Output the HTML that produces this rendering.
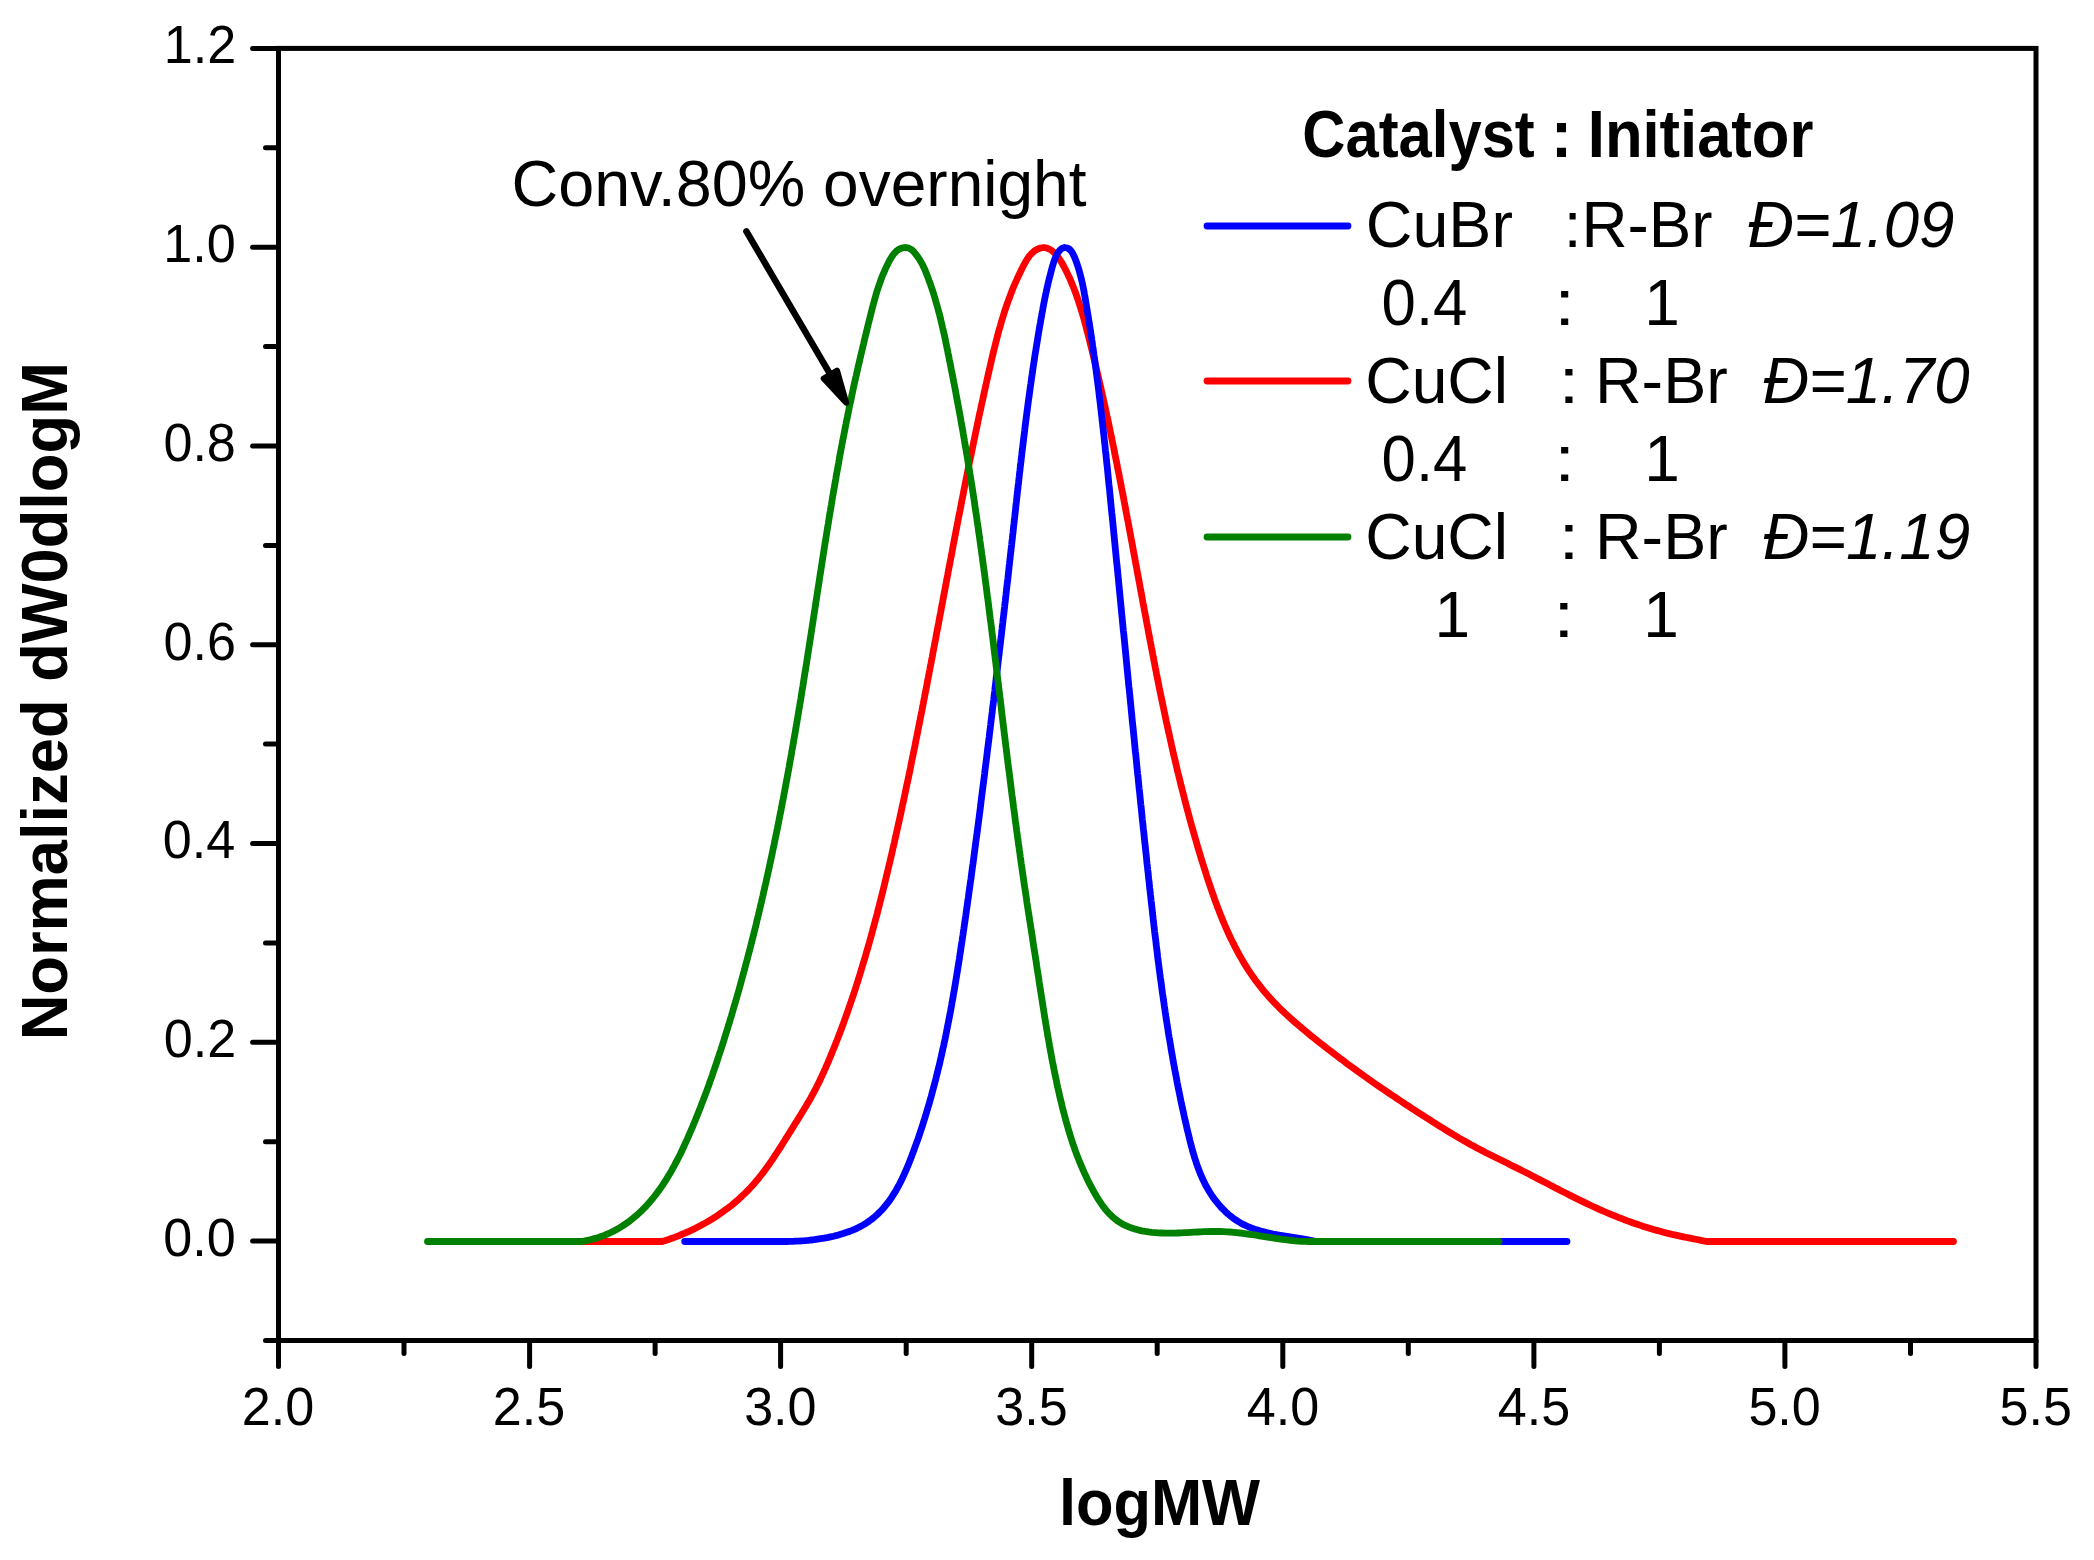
<!DOCTYPE html>
<html lang="en"><head><meta charset="utf-8"><title>GPC traces</title>
<style>html,body{margin:0;padding:0;background:#fff}body{width:2094px;height:1560px;overflow:hidden}svg{display:block}text{font-family:"Liberation Sans",Arial,Helvetica,sans-serif;fill:#000}</style></head><body>
<svg width="2094" height="1560" viewBox="0 0 2094 1560">
<rect width="2094" height="1560" fill="#fff"/>
<path d="M575.0,1241.5 L662.3,1241.5 L665.5,1240.5 L668.8,1239.4 L672.0,1238.2 L675.2,1237.1 L678.4,1235.8 L681.6,1234.5 L684.8,1233.2 L687.9,1231.8 L691.1,1230.3 L694.2,1228.9 L697.3,1227.3 L700.3,1225.7 L703.4,1224.1 L706.4,1222.4 L709.4,1220.6 L712.3,1218.8 L715.3,1217.0 L718.2,1215.1 L721.0,1213.1 L723.8,1211.1 L726.6,1209.1 L729.4,1207.0 L732.1,1204.9 L734.7,1202.7 L737.4,1200.4 L739.9,1198.1 L742.4,1195.8 L744.9,1193.4 L747.3,1191.0 L749.7,1188.5 L752.0,1186.0 L754.3,1183.4 L756.5,1180.8 L758.7,1178.2 L760.8,1175.5 L762.9,1172.8 L765.0,1170.0 L767.0,1167.3 L769.0,1164.5 L771.0,1161.6 L772.9,1158.8 L774.8,1155.9 L776.7,1153.0 L778.6,1150.1 L780.5,1147.2 L782.3,1144.3 L784.2,1141.3 L786.0,1138.4 L787.8,1135.5 L789.7,1132.5 L791.5,1129.6 L793.3,1126.7 L795.1,1123.7 L797.0,1120.8 L798.8,1117.9 L800.6,1115.0 L802.3,1112.1 L804.1,1109.2 L805.8,1106.4 L807.5,1103.5 L809.2,1100.7 L810.8,1097.9 L812.3,1095.0 L813.9,1092.2 L815.4,1089.4 L816.8,1086.5 L818.3,1083.7 L819.7,1080.7 L821.1,1077.8 L822.5,1074.7 L823.9,1071.7 L825.3,1068.6 L826.6,1065.5 L828.0,1062.4 L829.3,1059.2 L830.6,1056.1 L831.9,1052.9 L833.2,1049.8 L834.5,1046.6 L835.7,1043.5 L837.0,1040.3 L838.2,1037.1 L839.5,1033.9 L840.7,1030.7 L841.9,1027.5 L843.1,1024.3 L844.2,1021.1 L845.4,1017.9 L846.5,1014.7 L847.7,1011.5 L848.8,1008.2 L849.9,1005.0 L851.0,1001.8 L852.1,998.5 L853.2,995.3 L854.3,992.0 L855.4,988.8 L856.4,985.5 L857.5,982.2 L858.5,978.9 L859.5,975.7 L860.5,972.4 L861.5,969.1 L862.5,965.8 L863.5,962.5 L864.5,959.2 L865.5,955.9 L866.4,952.6 L867.4,949.3 L868.3,946.0 L869.3,942.7 L870.2,939.4 L871.1,936.1 L872.0,932.8 L872.9,929.4 L873.8,926.1 L874.7,922.8 L875.6,919.4 L876.5,916.1 L877.4,912.8 L878.2,909.4 L879.1,906.1 L879.9,902.7 L880.8,899.4 L881.6,896.0 L882.5,892.7 L883.3,889.3 L884.1,886.0 L884.9,882.6 L885.7,879.3 L886.5,875.9 L887.3,872.6 L888.1,869.2 L888.9,865.8 L889.7,862.5 L890.5,859.1 L891.3,855.8 L892.1,852.4 L892.8,849.0 L893.6,845.7 L894.4,842.3 L895.1,838.9 L895.9,835.6 L896.6,832.2 L897.4,828.8 L898.1,825.5 L898.9,822.1 L899.6,818.7 L900.4,815.4 L901.1,812.0 L901.8,808.6 L902.5,805.2 L903.3,801.9 L904.0,798.5 L904.7,795.1 L905.4,791.8 L906.1,788.4 L906.8,785.0 L907.6,781.6 L908.3,778.3 L909.0,774.9 L909.7,771.5 L910.4,768.1 L911.0,764.8 L911.7,761.4 L912.4,758.0 L913.1,754.6 L913.8,751.3 L914.5,747.9 L915.2,744.5 L915.8,741.1 L916.5,737.7 L917.2,734.4 L917.9,731.0 L918.5,727.6 L919.2,724.2 L919.9,720.8 L920.5,717.5 L921.2,714.1 L921.9,710.7 L922.5,707.3 L923.2,703.9 L923.8,700.6 L924.5,697.2 L925.1,693.8 L925.8,690.4 L926.5,687.0 L927.1,683.6 L927.7,680.3 L928.4,676.9 L929.0,673.5 L929.7,670.1 L930.3,666.7 L931.0,663.4 L931.6,660.0 L932.3,656.6 L932.9,653.2 L933.5,649.8 L934.2,646.4 L934.8,643.0 L935.5,639.7 L936.1,636.3 L936.7,632.9 L937.4,629.5 L938.0,626.1 L938.7,622.7 L939.3,619.4 L939.9,616.0 L940.6,612.6 L941.2,609.2 L941.8,605.8 L942.5,602.4 L943.1,599.1 L943.7,595.7 L944.4,592.3 L945.0,588.9 L945.7,585.5 L946.3,582.1 L946.9,578.7 L947.6,575.4 L948.2,572.0 L948.8,568.6 L949.5,565.2 L950.1,561.8 L950.8,558.4 L951.4,555.1 L952.1,551.7 L952.7,548.3 L953.3,544.9 L954.0,541.5 L954.6,538.1 L955.3,534.8 L955.9,531.4 L956.6,528.0 L957.2,524.6 L957.9,521.2 L958.5,517.9 L959.2,514.5 L959.9,511.1 L960.5,507.7 L961.2,504.3 L961.8,500.9 L962.5,497.6 L963.2,494.2 L963.8,490.8 L964.5,487.4 L965.2,484.0 L965.8,480.7 L966.5,477.3 L967.2,473.9 L967.9,470.5 L968.5,467.2 L969.2,463.8 L969.9,460.4 L970.6,457.0 L971.3,453.7 L972.0,450.3 L972.7,446.9 L973.4,443.5 L974.1,440.1 L974.8,436.8 L975.5,433.4 L976.2,430.0 L976.9,426.7 L977.6,423.3 L978.3,419.9 L979.0,416.5 L979.7,413.2 L980.5,409.8 L981.2,406.4 L981.9,403.1 L982.7,399.7 L983.4,396.3 L984.1,392.9 L984.9,389.6 L985.6,386.2 L986.4,382.8 L987.1,379.5 L987.9,376.1 L988.6,372.7 L989.4,369.4 L990.2,366.0 L990.9,362.7 L991.7,359.3 L992.5,355.9 L993.3,352.6 L994.1,349.2 L995.0,345.9 L995.8,342.5 L996.7,339.2 L997.5,335.9 L998.4,332.5 L999.3,329.2 L1000.3,325.9 L1001.2,322.6 L1002.2,319.3 L1003.2,316.0 L1004.2,312.7 L1005.3,309.4 L1006.4,306.2 L1007.5,302.9 L1008.7,299.7 L1009.9,296.5 L1011.1,293.2 L1012.3,290.0 L1013.6,286.8 L1015.0,283.7 L1016.4,280.5 L1017.8,277.3 L1019.3,274.2 L1020.8,271.1 L1022.3,268.0 L1023.9,264.9 L1025.6,261.8 L1027.4,258.8 L1029.3,256.0 L1031.6,253.5 L1034.1,251.2 L1037.0,249.3 L1040.3,248.0 L1043.7,247.5 L1047.0,248.1 L1050.1,249.5 L1052.9,251.5 L1055.4,253.8 L1057.6,256.4 L1059.6,259.2 L1061.5,262.2 L1063.2,265.2 L1064.8,268.3 L1066.4,271.4 L1067.9,274.6 L1069.4,277.7 L1070.8,280.9 L1072.1,284.1 L1073.4,287.3 L1074.7,290.5 L1075.9,293.7 L1077.0,297.0 L1078.2,300.2 L1079.2,303.5 L1080.3,306.8 L1081.3,310.0 L1082.3,313.3 L1083.2,316.6 L1084.2,319.9 L1085.1,323.3 L1086.0,326.6 L1086.8,329.9 L1087.7,333.2 L1088.6,336.6 L1089.4,339.9 L1090.2,343.2 L1091.1,346.6 L1091.9,349.9 L1092.7,353.3 L1093.5,356.6 L1094.3,359.9 L1095.1,363.3 L1095.9,366.6 L1096.7,370.0 L1097.5,373.3 L1098.3,376.7 L1099.0,380.1 L1099.8,383.4 L1100.6,386.8 L1101.3,390.1 L1102.1,393.5 L1102.8,396.9 L1103.6,400.2 L1104.3,403.6 L1105.1,407.0 L1105.8,410.3 L1106.5,413.7 L1107.2,417.1 L1108.0,420.4 L1108.7,423.8 L1109.4,427.2 L1110.1,430.6 L1110.8,433.9 L1111.5,437.3 L1112.2,440.7 L1112.9,444.1 L1113.6,447.4 L1114.3,450.8 L1114.9,454.2 L1115.6,457.6 L1116.3,461.0 L1117.0,464.4 L1117.6,467.7 L1118.3,471.1 L1119.0,474.5 L1119.6,477.9 L1120.3,481.3 L1121.0,484.7 L1121.6,488.1 L1122.3,491.5 L1122.9,494.8 L1123.6,498.2 L1124.2,501.6 L1124.9,505.0 L1125.5,508.4 L1126.1,511.8 L1126.8,515.2 L1127.4,518.6 L1128.1,522.0 L1128.7,525.4 L1129.3,528.8 L1130.0,532.2 L1130.6,535.6 L1131.2,538.9 L1131.9,542.3 L1132.5,545.7 L1133.1,549.1 L1133.7,552.5 L1134.4,555.9 L1135.0,559.3 L1135.6,562.7 L1136.3,566.1 L1136.9,569.5 L1137.5,572.9 L1138.1,576.3 L1138.8,579.7 L1139.4,583.0 L1140.0,586.4 L1140.6,589.8 L1141.3,593.2 L1141.9,596.6 L1142.5,600.0 L1143.1,603.4 L1143.8,606.8 L1144.4,610.2 L1145.0,613.5 L1145.7,616.9 L1146.3,620.3 L1146.9,623.7 L1147.6,627.1 L1148.2,630.5 L1148.8,633.8 L1149.5,637.2 L1150.1,640.6 L1150.8,644.0 L1151.4,647.4 L1152.1,650.7 L1152.7,654.1 L1153.4,657.5 L1154.0,660.9 L1154.7,664.3 L1155.3,667.6 L1156.0,671.0 L1156.6,674.4 L1157.3,677.7 L1158.0,681.1 L1158.7,684.5 L1159.3,687.9 L1160.0,691.2 L1160.7,694.6 L1161.4,698.0 L1162.1,701.3 L1162.8,704.7 L1163.5,708.1 L1164.2,711.4 L1164.9,714.8 L1165.6,718.1 L1166.3,721.5 L1167.1,724.9 L1167.8,728.2 L1168.5,731.6 L1169.3,734.9 L1170.0,738.3 L1170.8,741.6 L1171.5,745.0 L1172.3,748.4 L1173.0,751.7 L1173.8,755.1 L1174.6,758.4 L1175.4,761.8 L1176.2,765.1 L1176.9,768.4 L1177.7,771.8 L1178.6,775.1 L1179.4,778.5 L1180.2,781.8 L1181.0,785.2 L1181.9,788.5 L1182.7,791.8 L1183.6,795.2 L1184.4,798.5 L1185.3,801.9 L1186.1,805.2 L1187.0,808.5 L1187.9,811.9 L1188.8,815.2 L1189.7,818.5 L1190.6,821.9 L1191.5,825.2 L1192.5,828.5 L1193.4,831.8 L1194.4,835.2 L1195.3,838.5 L1196.3,841.8 L1197.2,845.1 L1198.2,848.5 L1199.2,851.8 L1200.2,855.1 L1201.2,858.4 L1202.2,861.7 L1203.3,865.0 L1204.3,868.4 L1205.4,871.7 L1206.4,875.0 L1207.5,878.3 L1208.6,881.6 L1209.7,884.9 L1210.8,888.2 L1211.9,891.5 L1213.1,894.7 L1214.2,898.0 L1215.4,901.3 L1216.6,904.5 L1217.8,907.8 L1219.1,911.0 L1220.3,914.2 L1221.6,917.4 L1222.9,920.6 L1224.3,923.8 L1225.6,927.0 L1227.0,930.1 L1228.4,933.3 L1229.9,936.4 L1231.3,939.5 L1232.9,942.5 L1234.4,945.6 L1236.0,948.6 L1237.6,951.7 L1239.2,954.7 L1240.9,957.6 L1242.6,960.6 L1244.3,963.5 L1246.1,966.4 L1247.9,969.3 L1249.8,972.1 L1251.7,974.9 L1253.7,977.7 L1255.6,980.5 L1257.7,983.2 L1259.8,985.9 L1261.9,988.6 L1264.0,991.2 L1266.3,993.8 L1268.5,996.4 L1270.8,998.9 L1273.2,1001.5 L1275.5,1003.9 L1278.0,1006.4 L1280.4,1008.8 L1282.9,1011.2 L1285.4,1013.6 L1288.0,1016.0 L1290.5,1018.3 L1293.1,1020.6 L1295.7,1022.9 L1298.4,1025.2 L1301.0,1027.4 L1303.7,1029.6 L1306.4,1031.9 L1309.0,1034.1 L1311.7,1036.3 L1314.4,1038.4 L1317.1,1040.6 L1319.9,1042.8 L1322.6,1044.9 L1325.3,1047.0 L1328.0,1049.1 L1330.8,1051.2 L1333.5,1053.3 L1336.2,1055.4 L1339.0,1057.5 L1341.7,1059.6 L1344.5,1061.6 L1347.2,1063.7 L1350.0,1065.7 L1352.8,1067.7 L1355.6,1069.8 L1358.3,1071.8 L1361.1,1073.8 L1363.9,1075.8 L1366.7,1077.7 L1369.5,1079.7 L1372.3,1081.7 L1375.1,1083.7 L1377.9,1085.6 L1380.8,1087.6 L1383.6,1089.5 L1386.4,1091.4 L1389.3,1093.4 L1392.1,1095.3 L1395.0,1097.2 L1397.8,1099.1 L1400.7,1101.0 L1403.5,1102.9 L1406.4,1104.8 L1409.3,1106.7 L1412.1,1108.6 L1415.0,1110.4 L1417.9,1112.3 L1420.8,1114.2 L1423.7,1116.0 L1426.6,1117.9 L1429.5,1119.7 L1432.4,1121.6 L1435.3,1123.4 L1438.3,1125.3 L1441.2,1127.1 L1444.1,1128.9 L1447.1,1130.8 L1450.0,1132.5 L1453.0,1134.3 L1456.0,1136.1 L1458.9,1137.9 L1461.9,1139.6 L1464.9,1141.3 L1467.9,1143.0 L1470.9,1144.7 L1473.9,1146.3 L1476.9,1148.0 L1480.0,1149.6 L1483.0,1151.1 L1486.0,1152.7 L1489.1,1154.2 L1492.2,1155.8 L1495.2,1157.3 L1498.3,1158.8 L1501.4,1160.3 L1504.4,1161.8 L1507.5,1163.3 L1510.6,1164.9 L1513.6,1166.4 L1516.7,1167.9 L1519.8,1169.4 L1522.8,1171.0 L1525.9,1172.5 L1529.0,1174.1 L1532.0,1175.7 L1535.1,1177.3 L1538.1,1178.9 L1541.2,1180.4 L1544.2,1182.0 L1547.3,1183.6 L1550.3,1185.2 L1553.4,1186.8 L1556.4,1188.4 L1559.5,1189.9 L1562.5,1191.5 L1565.6,1193.0 L1568.6,1194.6 L1571.6,1196.1 L1574.7,1197.6 L1577.7,1199.1 L1580.8,1200.6 L1583.8,1202.1 L1586.9,1203.6 L1589.9,1205.0 L1593.0,1206.5 L1596.1,1207.9 L1599.2,1209.3 L1602.2,1210.6 L1605.4,1212.0 L1608.5,1213.3 L1611.6,1214.6 L1614.7,1215.9 L1617.9,1217.2 L1621.1,1218.4 L1624.3,1219.7 L1627.5,1220.9 L1630.7,1222.0 L1633.9,1223.2 L1637.2,1224.3 L1640.4,1225.4 L1643.7,1226.5 L1647.0,1227.5 L1650.2,1228.5 L1653.5,1229.5 L1656.8,1230.4 L1660.2,1231.3 L1663.5,1232.2 L1666.8,1233.1 L1670.1,1233.9 L1673.4,1234.7 L1676.8,1235.4 L1680.1,1236.1 L1683.4,1236.8 L1686.8,1237.5 L1690.1,1238.2 L1693.4,1238.9 L1696.7,1239.5 L1700.0,1240.2 L1703.2,1240.8 L1706.5,1241.5 L1953.5,1241.5" fill="none" stroke="#ff0000" stroke-width="6.8" stroke-linecap="round" stroke-linejoin="round"/>
<path d="M684.7,1241.5 L784.0,1241.5 L786.8,1241.5 L789.6,1241.4 L792.6,1241.4 L795.5,1241.2 L798.6,1241.1 L801.7,1240.9 L804.8,1240.7 L807.9,1240.4 L811.1,1240.0 L814.3,1239.7 L817.5,1239.2 L820.7,1238.7 L824.0,1238.2 L827.2,1237.6 L830.4,1236.9 L833.6,1236.2 L836.8,1235.4 L839.9,1234.5 L843.1,1233.6 L846.1,1232.6 L849.2,1231.5 L852.1,1230.4 L855.1,1229.1 L857.9,1227.8 L860.7,1226.4 L863.4,1224.9 L866.0,1223.3 L868.5,1221.6 L871.0,1219.8 L873.3,1218.0 L875.6,1216.0 L877.8,1214.0 L879.9,1211.9 L882.0,1209.8 L884.0,1207.5 L885.9,1205.2 L887.7,1202.9 L889.5,1200.4 L891.3,1198.0 L892.9,1195.4 L894.5,1192.9 L896.1,1190.2 L897.6,1187.5 L899.1,1184.8 L900.5,1182.1 L901.9,1179.3 L903.2,1176.5 L904.5,1173.6 L905.8,1170.7 L907.0,1167.8 L908.3,1164.9 L909.4,1162.0 L910.6,1159.1 L911.7,1156.1 L912.8,1153.1 L913.9,1150.2 L915.0,1147.2 L916.1,1144.2 L917.1,1141.3 L918.2,1138.3 L919.2,1135.3 L920.2,1132.3 L921.2,1129.3 L922.2,1126.4 L923.1,1123.4 L924.1,1120.4 L925.0,1117.4 L925.9,1114.4 L926.8,1111.4 L927.7,1108.4 L928.6,1105.4 L929.5,1102.4 L930.3,1099.4 L931.2,1096.4 L932.0,1093.4 L932.8,1090.4 L933.6,1087.3 L934.4,1084.3 L935.2,1081.3 L936.0,1078.3 L936.7,1075.3 L937.5,1072.2 L938.2,1069.2 L939.0,1066.2 L939.7,1063.2 L940.4,1060.1 L941.1,1057.1 L941.8,1054.1 L942.4,1051.0 L943.1,1048.0 L943.8,1045.0 L944.4,1041.9 L945.1,1038.9 L945.7,1035.8 L946.3,1032.8 L946.9,1029.7 L947.5,1026.7 L948.1,1023.6 L948.7,1020.6 L949.3,1017.5 L949.9,1014.5 L950.5,1011.4 L951.0,1008.4 L951.6,1005.3 L952.1,1002.2 L952.7,999.2 L953.2,996.1 L953.7,993.1 L954.3,990.0 L954.8,986.9 L955.3,983.9 L955.8,980.8 L956.3,977.7 L956.8,974.7 L957.3,971.6 L957.8,968.5 L958.3,965.4 L958.8,962.4 L959.3,959.3 L959.7,956.2 L960.2,953.1 L960.7,950.1 L961.1,947.0 L961.6,943.9 L962.1,940.8 L962.5,937.8 L963.0,934.7 L963.4,931.6 L963.9,928.5 L964.3,925.4 L964.8,922.4 L965.2,919.3 L965.7,916.2 L966.1,913.1 L966.5,910.0 L967.0,906.9 L967.4,903.9 L967.8,900.8 L968.3,897.7 L968.7,894.6 L969.1,891.5 L969.6,888.4 L970.0,885.3 L970.4,882.2 L970.9,879.2 L971.3,876.1 L971.7,873.0 L972.1,869.9 L972.5,866.8 L973.0,863.7 L973.4,860.6 L973.8,857.5 L974.2,854.4 L974.6,851.4 L975.0,848.3 L975.4,845.2 L975.8,842.1 L976.2,839.0 L976.7,835.9 L977.1,832.8 L977.5,829.7 L977.9,826.6 L978.3,823.5 L978.7,820.4 L979.1,817.4 L979.5,814.3 L979.9,811.2 L980.3,808.1 L980.7,805.0 L981.0,801.9 L981.4,798.8 L981.8,795.7 L982.2,792.6 L982.6,789.5 L983.0,786.4 L983.4,783.3 L983.8,780.2 L984.2,777.1 L984.6,774.1 L984.9,771.0 L985.3,767.9 L985.7,764.8 L986.1,761.7 L986.5,758.6 L986.9,755.5 L987.2,752.4 L987.6,749.3 L988.0,746.2 L988.4,743.1 L988.8,740.0 L989.2,736.9 L989.5,733.9 L989.9,730.8 L990.3,727.7 L990.7,724.6 L991.0,721.5 L991.4,718.4 L991.8,715.3 L992.2,712.2 L992.5,709.1 L992.9,706.0 L993.3,702.9 L993.7,699.9 L994.0,696.8 L994.4,693.7 L994.8,690.6 L995.1,687.5 L995.5,684.4 L995.9,681.3 L996.2,678.2 L996.6,675.1 L997.0,672.0 L997.4,668.9 L997.7,665.8 L998.1,662.8 L998.4,659.7 L998.8,656.6 L999.2,653.5 L999.5,650.4 L999.9,647.3 L1000.3,644.2 L1000.6,641.1 L1001.0,638.0 L1001.4,634.9 L1001.7,631.8 L1002.1,628.7 L1002.4,625.6 L1002.8,622.6 L1003.1,619.5 L1003.5,616.4 L1003.9,613.3 L1004.2,610.2 L1004.6,607.1 L1004.9,604.0 L1005.3,600.9 L1005.6,597.8 L1006.0,594.7 L1006.3,591.6 L1006.7,588.5 L1007.0,585.4 L1007.4,582.3 L1007.8,579.2 L1008.1,576.1 L1008.5,573.0 L1008.8,569.9 L1009.1,566.8 L1009.5,563.7 L1009.8,560.6 L1010.2,557.5 L1010.5,554.4 L1010.9,551.3 L1011.2,548.2 L1011.6,545.1 L1011.9,542.0 L1012.3,538.9 L1012.6,535.8 L1013.0,532.7 L1013.3,529.6 L1013.6,526.5 L1014.0,523.4 L1014.3,520.3 L1014.7,517.2 L1015.0,514.1 L1015.4,511.0 L1015.7,507.9 L1016.0,504.8 L1016.4,501.7 L1016.7,498.6 L1017.1,495.5 L1017.4,492.4 L1017.8,489.3 L1018.1,486.2 L1018.5,483.1 L1018.8,480.0 L1019.2,476.9 L1019.5,473.8 L1019.9,470.7 L1020.2,467.6 L1020.6,464.5 L1021.0,461.4 L1021.3,458.3 L1021.7,455.2 L1022.0,452.1 L1022.4,449.0 L1022.8,445.9 L1023.2,442.8 L1023.5,439.7 L1023.9,436.6 L1024.3,433.5 L1024.7,430.4 L1025.0,427.3 L1025.4,424.2 L1025.8,421.1 L1026.2,418.0 L1026.6,414.9 L1027.0,411.8 L1027.4,408.7 L1027.8,405.7 L1028.2,402.6 L1028.6,399.5 L1029.1,396.4 L1029.5,393.3 L1029.9,390.2 L1030.3,387.1 L1030.8,384.0 L1031.2,381.0 L1031.6,377.9 L1032.1,374.8 L1032.5,371.7 L1033.0,368.6 L1033.4,365.5 L1033.9,362.5 L1034.4,359.4 L1034.8,356.3 L1035.3,353.2 L1035.8,350.2 L1036.3,347.1 L1036.8,344.0 L1037.3,341.0 L1037.8,337.9 L1038.3,334.8 L1038.8,331.8 L1039.3,328.7 L1039.8,325.6 L1040.4,322.6 L1040.9,319.5 L1041.5,316.4 L1042.0,313.4 L1042.6,310.3 L1043.1,307.3 L1043.7,304.2 L1044.3,301.2 L1044.9,298.1 L1045.5,295.1 L1046.2,292.0 L1046.8,289.0 L1047.5,285.9 L1048.2,282.9 L1048.9,279.9 L1049.7,276.8 L1050.5,273.8 L1051.3,270.7 L1052.1,267.7 L1053.0,264.6 L1053.9,261.6 L1055.0,258.6 L1056.2,255.8 L1057.7,253.1 L1059.6,250.5 L1061.8,248.4 L1064.5,247.5 L1067.4,248.0 L1069.8,249.5 L1071.7,251.7 L1073.2,254.4 L1074.6,257.3 L1075.8,260.4 L1076.9,263.5 L1077.9,266.5 L1078.9,269.6 L1079.7,272.6 L1080.5,275.7 L1081.3,278.7 L1082.0,281.7 L1082.7,284.8 L1083.3,287.8 L1083.9,290.9 L1084.4,293.9 L1085.0,297.0 L1085.5,300.0 L1086.0,303.1 L1086.5,306.1 L1087.0,309.2 L1087.5,312.2 L1088.0,315.3 L1088.5,318.4 L1089.0,321.4 L1089.5,324.5 L1090.0,327.5 L1090.4,330.6 L1090.9,333.7 L1091.4,336.7 L1091.8,339.8 L1092.3,342.9 L1092.7,346.0 L1093.2,349.0 L1093.6,352.1 L1094.0,355.2 L1094.5,358.3 L1094.9,361.3 L1095.3,364.4 L1095.7,367.5 L1096.1,370.6 L1096.5,373.7 L1096.9,376.8 L1097.3,379.9 L1097.7,382.9 L1098.1,386.0 L1098.5,389.1 L1098.9,392.2 L1099.2,395.3 L1099.6,398.4 L1100.0,401.5 L1100.4,404.6 L1100.7,407.7 L1101.1,410.8 L1101.4,413.9 L1101.8,417.0 L1102.1,420.1 L1102.5,423.2 L1102.8,426.3 L1103.2,429.4 L1103.5,432.5 L1103.9,435.6 L1104.2,438.7 L1104.5,441.8 L1104.9,444.9 L1105.2,448.0 L1105.5,451.1 L1105.9,454.2 L1106.2,457.3 L1106.5,460.4 L1106.8,463.5 L1107.2,466.6 L1107.5,469.7 L1107.8,472.8 L1108.1,475.9 L1108.4,479.0 L1108.7,482.1 L1109.0,485.2 L1109.4,488.3 L1109.7,491.4 L1110.0,494.6 L1110.3,497.7 L1110.6,500.8 L1110.9,503.9 L1111.2,507.0 L1111.5,510.1 L1111.8,513.2 L1112.2,516.3 L1112.5,519.4 L1112.8,522.5 L1113.1,525.6 L1113.4,528.7 L1113.7,531.8 L1114.0,534.9 L1114.3,538.0 L1114.6,541.1 L1114.9,544.2 L1115.2,547.3 L1115.5,550.4 L1115.8,553.5 L1116.1,556.6 L1116.4,559.7 L1116.7,562.8 L1117.1,565.9 L1117.4,569.1 L1117.7,572.2 L1118.0,575.3 L1118.3,578.4 L1118.6,581.5 L1118.9,584.6 L1119.2,587.7 L1119.5,590.8 L1119.8,593.9 L1120.1,597.0 L1120.4,600.1 L1120.7,603.2 L1121.0,606.3 L1121.3,609.4 L1121.6,612.5 L1121.9,615.6 L1122.2,618.7 L1122.5,621.8 L1122.8,624.9 L1123.1,628.0 L1123.4,631.1 L1123.8,634.2 L1124.1,637.3 L1124.4,640.4 L1124.7,643.5 L1125.0,646.6 L1125.3,649.7 L1125.6,652.8 L1125.9,655.9 L1126.2,659.0 L1126.5,662.1 L1126.8,665.2 L1127.1,668.3 L1127.4,671.4 L1127.7,674.5 L1128.0,677.6 L1128.3,680.7 L1128.6,683.8 L1128.9,686.9 L1129.3,690.0 L1129.6,693.1 L1129.9,696.2 L1130.2,699.3 L1130.5,702.3 L1130.8,705.4 L1131.1,708.5 L1131.4,711.6 L1131.7,714.7 L1132.0,717.8 L1132.3,720.9 L1132.6,724.0 L1133.0,727.1 L1133.3,730.2 L1133.6,733.3 L1133.9,736.4 L1134.2,739.5 L1134.5,742.6 L1134.8,745.7 L1135.1,748.8 L1135.4,751.9 L1135.8,755.0 L1136.1,758.1 L1136.4,761.2 L1136.7,764.3 L1137.0,767.4 L1137.3,770.5 L1137.6,773.6 L1138.0,776.7 L1138.3,779.8 L1138.6,782.9 L1138.9,786.0 L1139.2,789.1 L1139.6,792.2 L1139.9,795.3 L1140.2,798.4 L1140.5,801.5 L1140.8,804.6 L1141.2,807.7 L1141.5,810.8 L1141.8,813.9 L1142.1,817.0 L1142.4,820.1 L1142.8,823.2 L1143.1,826.3 L1143.4,829.4 L1143.8,832.5 L1144.1,835.6 L1144.4,838.7 L1144.7,841.8 L1145.1,844.9 L1145.4,847.9 L1145.7,851.0 L1146.1,854.1 L1146.4,857.2 L1146.7,860.3 L1147.0,863.4 L1147.4,866.5 L1147.7,869.6 L1148.1,872.7 L1148.4,875.8 L1148.7,878.9 L1149.1,882.0 L1149.4,885.1 L1149.7,888.2 L1150.1,891.3 L1150.4,894.4 L1150.8,897.5 L1151.1,900.6 L1151.5,903.7 L1151.8,906.8 L1152.2,909.9 L1152.5,913.0 L1152.9,916.1 L1153.2,919.2 L1153.6,922.3 L1153.9,925.4 L1154.3,928.5 L1154.6,931.6 L1155.0,934.7 L1155.4,937.8 L1155.8,940.9 L1156.1,944.0 L1156.5,947.1 L1156.9,950.2 L1157.3,953.3 L1157.6,956.4 L1158.0,959.5 L1158.4,962.6 L1158.8,965.6 L1159.2,968.7 L1159.6,971.8 L1160.0,974.9 L1160.4,978.0 L1160.9,981.1 L1161.3,984.2 L1161.7,987.3 L1162.1,990.4 L1162.5,993.5 L1163.0,996.5 L1163.4,999.6 L1163.9,1002.7 L1164.3,1005.8 L1164.8,1008.9 L1165.2,1012.0 L1165.7,1015.1 L1166.1,1018.1 L1166.6,1021.2 L1167.1,1024.3 L1167.6,1027.4 L1168.1,1030.5 L1168.5,1033.5 L1169.0,1036.6 L1169.6,1039.7 L1170.1,1042.8 L1170.6,1045.8 L1171.1,1048.9 L1171.6,1052.0 L1172.2,1055.0 L1172.7,1058.1 L1173.2,1061.2 L1173.8,1064.3 L1174.4,1067.3 L1174.9,1070.4 L1175.5,1073.4 L1176.1,1076.5 L1176.7,1079.6 L1177.2,1082.6 L1177.8,1085.7 L1178.4,1088.8 L1179.1,1091.8 L1179.7,1094.9 L1180.3,1097.9 L1180.9,1101.0 L1181.6,1104.0 L1182.2,1107.1 L1182.9,1110.1 L1183.6,1113.2 L1184.2,1116.2 L1184.9,1119.3 L1185.6,1122.3 L1186.3,1125.3 L1187.0,1128.4 L1187.7,1131.4 L1188.5,1134.5 L1189.2,1137.5 L1189.9,1140.5 L1190.7,1143.6 L1191.5,1146.6 L1192.3,1149.6 L1193.1,1152.6 L1194.0,1155.6 L1194.9,1158.5 L1195.9,1161.5 L1196.8,1164.4 L1197.9,1167.3 L1199.0,1170.2 L1200.1,1173.1 L1201.3,1176.0 L1202.6,1178.8 L1203.9,1181.6 L1205.3,1184.4 L1206.7,1187.1 L1208.3,1189.8 L1209.9,1192.5 L1211.6,1195.1 L1213.4,1197.7 L1215.2,1200.2 L1217.2,1202.7 L1219.2,1205.1 L1221.3,1207.5 L1223.5,1209.7 L1225.7,1211.9 L1228.0,1214.0 L1230.4,1216.0 L1232.9,1217.9 L1235.4,1219.7 L1238.0,1221.4 L1240.6,1222.9 L1243.4,1224.4 L1246.1,1225.7 L1248.9,1227.0 L1251.8,1228.1 L1254.7,1229.2 L1257.7,1230.1 L1260.7,1231.0 L1263.7,1231.8 L1266.7,1232.6 L1269.8,1233.3 L1272.9,1234.0 L1276.0,1234.6 L1279.1,1235.2 L1282.2,1235.7 L1285.4,1236.2 L1288.5,1236.7 L1291.6,1237.2 L1294.7,1237.7 L1297.8,1238.2 L1300.9,1238.7 L1304.0,1239.2 L1307.0,1239.7 L1310.1,1240.3 L1313.1,1240.9 L1316.0,1241.5 L1567.0,1241.5" fill="none" stroke="#0000ff" stroke-width="6.8" stroke-linecap="round" stroke-linejoin="round"/>
<path d="M427.5,1241.5 L581.5,1241.5 L585.0,1240.9 L588.5,1240.2 L591.9,1239.3 L595.2,1238.4 L598.5,1237.4 L601.7,1236.3 L604.8,1235.1 L607.8,1233.8 L610.8,1232.5 L613.8,1231.0 L616.6,1229.5 L619.4,1227.9 L622.2,1226.2 L624.9,1224.4 L627.5,1222.6 L630.1,1220.7 L632.6,1218.7 L635.0,1216.7 L637.5,1214.6 L639.8,1212.4 L642.1,1210.2 L644.4,1207.9 L646.6,1205.6 L648.7,1203.2 L650.8,1200.8 L652.9,1198.3 L654.9,1195.7 L656.9,1193.1 L658.8,1190.5 L660.7,1187.9 L662.6,1185.1 L664.4,1182.4 L666.2,1179.6 L667.9,1176.8 L669.6,1174.0 L671.3,1171.1 L672.9,1168.2 L674.5,1165.3 L676.0,1162.4 L677.6,1159.4 L679.1,1156.5 L680.6,1153.5 L682.0,1150.5 L683.4,1147.5 L684.8,1144.4 L686.2,1141.4 L687.6,1138.4 L688.9,1135.4 L690.2,1132.3 L691.5,1129.3 L692.8,1126.3 L694.0,1123.3 L695.3,1120.2 L696.5,1117.2 L697.7,1114.2 L698.9,1111.3 L700.1,1108.3 L701.2,1105.3 L702.4,1102.3 L703.5,1099.3 L704.7,1096.3 L705.8,1093.4 L706.9,1090.4 L708.0,1087.4 L709.1,1084.4 L710.1,1081.3 L711.2,1078.3 L712.3,1075.3 L713.3,1072.2 L714.4,1069.1 L715.4,1066.1 L716.5,1063.0 L717.5,1059.9 L718.5,1056.8 L719.5,1053.7 L720.6,1050.6 L721.6,1047.4 L722.6,1044.3 L723.6,1041.2 L724.5,1038.1 L725.5,1035.0 L726.5,1031.9 L727.5,1028.7 L728.4,1025.6 L729.4,1022.5 L730.3,1019.3 L731.3,1016.2 L732.2,1013.1 L733.1,1009.9 L734.0,1006.8 L735.0,1003.6 L735.9,1000.5 L736.8,997.4 L737.7,994.2 L738.6,991.1 L739.5,987.9 L740.3,984.8 L741.2,981.6 L742.1,978.4 L742.9,975.3 L743.8,972.1 L744.7,969.0 L745.5,965.8 L746.3,962.6 L747.2,959.5 L748.0,956.3 L748.8,953.1 L749.7,950.0 L750.5,946.8 L751.3,943.6 L752.1,940.4 L752.9,937.3 L753.7,934.1 L754.5,930.9 L755.3,927.7 L756.1,924.5 L756.8,921.3 L757.6,918.1 L758.4,915.0 L759.1,911.8 L759.9,908.6 L760.6,905.4 L761.4,902.2 L762.1,899.0 L762.9,895.8 L763.6,892.6 L764.3,889.4 L765.0,886.2 L765.8,883.0 L766.5,879.8 L767.2,876.6 L767.9,873.4 L768.6,870.2 L769.3,867.0 L770.0,863.8 L770.7,860.6 L771.4,857.3 L772.1,854.1 L772.7,850.9 L773.4,847.7 L774.1,844.5 L774.7,841.3 L775.4,838.1 L776.1,834.8 L776.7,831.6 L777.4,828.4 L778.0,825.2 L778.7,822.0 L779.3,818.7 L779.9,815.5 L780.6,812.3 L781.2,809.1 L781.8,805.8 L782.4,802.6 L783.1,799.4 L783.7,796.1 L784.3,792.9 L784.9,789.7 L785.5,786.5 L786.1,783.2 L786.7,780.0 L787.3,776.8 L787.9,773.5 L788.5,770.3 L789.1,767.1 L789.6,763.8 L790.2,760.6 L790.8,757.4 L791.4,754.1 L791.9,750.9 L792.5,747.6 L793.1,744.4 L793.6,741.2 L794.2,737.9 L794.8,734.7 L795.3,731.5 L795.9,728.2 L796.4,725.0 L797.0,721.7 L797.5,718.5 L798.1,715.2 L798.6,712.0 L799.1,708.8 L799.7,705.5 L800.2,702.3 L800.8,699.0 L801.3,695.8 L801.8,692.6 L802.3,689.3 L802.9,686.1 L803.4,682.8 L803.9,679.6 L804.4,676.3 L804.9,673.1 L805.5,669.9 L806.0,666.6 L806.5,663.4 L807.0,660.1 L807.5,656.9 L808.0,653.6 L808.5,650.4 L809.0,647.2 L809.5,643.9 L810.0,640.7 L810.5,637.4 L811.0,634.2 L811.5,630.9 L812.0,627.7 L812.5,624.5 L813.0,621.2 L813.5,618.0 L814.0,614.7 L814.5,611.5 L815.0,608.2 L815.5,605.0 L816.0,601.8 L816.5,598.5 L817.0,595.3 L817.5,592.0 L818.0,588.8 L818.5,585.6 L819.0,582.3 L819.5,579.1 L820.0,575.8 L820.5,572.6 L821.0,569.4 L821.5,566.1 L822.0,562.9 L822.5,559.6 L823.0,556.4 L823.5,553.2 L824.0,549.9 L824.5,546.7 L825.0,543.5 L825.6,540.2 L826.1,537.0 L826.6,533.7 L827.1,530.5 L827.6,527.3 L828.2,524.0 L828.7,520.8 L829.2,517.6 L829.7,514.3 L830.3,511.1 L830.8,507.9 L831.4,504.6 L831.9,501.4 L832.4,498.2 L833.0,494.9 L833.5,491.7 L834.1,488.5 L834.7,485.2 L835.2,482.0 L835.8,478.8 L836.3,475.5 L836.9,472.3 L837.5,469.1 L838.1,465.9 L838.7,462.6 L839.2,459.4 L839.8,456.2 L840.4,452.9 L841.0,449.7 L841.6,446.5 L842.2,443.3 L842.8,440.0 L843.5,436.8 L844.1,433.6 L844.7,430.4 L845.3,427.2 L846.0,423.9 L846.6,420.7 L847.3,417.5 L847.9,414.3 L848.6,411.0 L849.2,407.8 L849.9,404.6 L850.6,401.4 L851.3,398.2 L851.9,395.0 L852.6,391.7 L853.3,388.5 L854.0,385.3 L854.7,382.1 L855.4,378.9 L856.2,375.7 L856.9,372.5 L857.6,369.3 L858.3,366.1 L859.1,362.9 L859.8,359.7 L860.6,356.4 L861.3,353.2 L862.1,350.0 L862.8,346.9 L863.6,343.7 L864.3,340.5 L865.1,337.3 L865.9,334.1 L866.7,330.9 L867.4,327.7 L868.2,324.5 L869.0,321.4 L869.8,318.2 L870.6,315.0 L871.4,311.8 L872.2,308.7 L873.0,305.5 L873.9,302.4 L874.7,299.2 L875.6,296.1 L876.5,292.9 L877.5,289.8 L878.5,286.7 L879.6,283.6 L880.7,280.5 L881.8,277.4 L883.1,274.3 L884.4,271.3 L885.7,268.2 L887.2,265.2 L888.7,262.2 L890.3,259.2 L892.1,256.3 L894.0,253.6 L896.2,251.3 L898.7,249.4 L901.6,248.1 L904.8,247.5 L908.0,247.8 L910.9,249.2 L913.5,251.4 L915.7,254.1 L917.8,256.8 L919.6,259.6 L921.3,262.4 L922.8,265.3 L924.2,268.2 L925.5,271.2 L926.7,274.3 L927.9,277.3 L929.0,280.4 L930.2,283.5 L931.2,286.6 L932.3,289.7 L933.3,292.8 L934.3,296.0 L935.2,299.1 L936.1,302.3 L937.0,305.4 L937.9,308.6 L938.7,311.7 L939.6,314.9 L940.4,318.1 L941.1,321.3 L941.9,324.5 L942.6,327.7 L943.4,330.9 L944.1,334.1 L944.8,337.3 L945.5,340.5 L946.1,343.8 L946.8,347.0 L947.5,350.2 L948.1,353.4 L948.8,356.6 L949.4,359.9 L950.1,363.1 L950.7,366.3 L951.3,369.5 L952.0,372.8 L952.6,376.0 L953.2,379.2 L953.8,382.4 L954.5,385.7 L955.1,388.9 L955.7,392.1 L956.3,395.3 L956.9,398.6 L957.5,401.8 L958.1,405.0 L958.7,408.2 L959.3,411.5 L959.9,414.7 L960.5,417.9 L961.0,421.1 L961.6,424.4 L962.2,427.6 L962.8,430.8 L963.3,434.1 L963.9,437.3 L964.4,440.5 L965.0,443.8 L965.5,447.0 L966.1,450.2 L966.6,453.5 L967.2,456.7 L967.7,459.9 L968.2,463.2 L968.8,466.4 L969.3,469.6 L969.8,472.9 L970.3,476.1 L970.8,479.4 L971.4,482.6 L971.9,485.8 L972.4,489.1 L972.9,492.3 L973.4,495.6 L973.9,498.8 L974.4,502.0 L974.8,505.3 L975.3,508.5 L975.8,511.8 L976.3,515.0 L976.8,518.3 L977.2,521.5 L977.7,524.8 L978.2,528.0 L978.6,531.3 L979.1,534.5 L979.6,537.8 L980.0,541.0 L980.5,544.3 L980.9,547.5 L981.4,550.8 L981.8,554.0 L982.3,557.3 L982.7,560.5 L983.1,563.8 L983.6,567.0 L984.0,570.3 L984.5,573.6 L984.9,576.8 L985.3,580.1 L985.7,583.3 L986.2,586.6 L986.6,589.8 L987.0,593.1 L987.4,596.4 L987.9,599.6 L988.3,602.9 L988.7,606.1 L989.1,609.4 L989.5,612.6 L989.9,615.9 L990.3,619.2 L990.8,622.4 L991.2,625.7 L991.6,628.9 L992.0,632.2 L992.4,635.5 L992.8,638.7 L993.2,642.0 L993.6,645.2 L994.0,648.5 L994.4,651.8 L994.8,655.0 L995.2,658.3 L995.6,661.5 L996.0,664.8 L996.4,668.1 L996.8,671.3 L997.2,674.6 L997.6,677.9 L998.0,681.1 L998.4,684.4 L998.8,687.6 L999.2,690.9 L999.6,694.2 L1000.0,697.4 L1000.4,700.7 L1000.8,703.9 L1001.2,707.2 L1001.5,710.5 L1001.9,713.7 L1002.3,717.0 L1002.7,720.2 L1003.1,723.5 L1003.5,726.8 L1003.9,730.0 L1004.3,733.3 L1004.7,736.5 L1005.1,739.8 L1005.5,743.1 L1005.9,746.3 L1006.3,749.6 L1006.7,752.8 L1007.1,756.1 L1007.5,759.4 L1007.9,762.6 L1008.3,765.9 L1008.7,769.1 L1009.2,772.4 L1009.6,775.6 L1010.0,778.9 L1010.4,782.1 L1010.8,785.4 L1011.2,788.7 L1011.6,791.9 L1012.0,795.2 L1012.5,798.4 L1012.9,801.7 L1013.3,804.9 L1013.7,808.2 L1014.2,811.4 L1014.6,814.7 L1015.0,817.9 L1015.4,821.2 L1015.9,824.4 L1016.3,827.7 L1016.7,830.9 L1017.2,834.2 L1017.6,837.4 L1018.1,840.7 L1018.5,843.9 L1019.0,847.2 L1019.4,850.4 L1019.9,853.6 L1020.3,856.9 L1020.8,860.1 L1021.2,863.4 L1021.7,866.6 L1022.2,869.9 L1022.6,873.1 L1023.1,876.3 L1023.6,879.6 L1024.0,882.8 L1024.5,886.1 L1025.0,889.3 L1025.5,892.5 L1026.0,895.8 L1026.5,899.0 L1026.9,902.2 L1027.4,905.4 L1027.9,908.7 L1028.4,911.9 L1028.9,915.1 L1029.4,918.3 L1029.9,921.5 L1030.4,924.7 L1030.9,927.9 L1031.4,931.1 L1031.9,934.3 L1032.4,937.5 L1032.8,940.6 L1033.3,943.8 L1033.8,947.0 L1034.3,950.1 L1034.8,953.3 L1035.3,956.4 L1035.8,959.6 L1036.3,962.7 L1036.7,965.8 L1037.2,969.0 L1037.7,972.1 L1038.2,975.2 L1038.7,978.3 L1039.1,981.5 L1039.6,984.6 L1040.1,987.8 L1040.6,990.9 L1041.1,994.1 L1041.6,997.3 L1042.1,1000.5 L1042.6,1003.7 L1043.1,1006.9 L1043.6,1010.1 L1044.1,1013.3 L1044.6,1016.5 L1045.1,1019.7 L1045.7,1023.0 L1046.2,1026.2 L1046.7,1029.4 L1047.3,1032.7 L1047.8,1035.9 L1048.4,1039.1 L1049.0,1042.4 L1049.5,1045.6 L1050.1,1048.9 L1050.7,1052.1 L1051.3,1055.4 L1051.9,1058.6 L1052.5,1061.9 L1053.2,1065.1 L1053.8,1068.4 L1054.4,1071.6 L1055.1,1074.8 L1055.8,1078.1 L1056.5,1081.3 L1057.1,1084.5 L1057.8,1087.8 L1058.6,1091.0 L1059.3,1094.2 L1060.0,1097.4 L1060.8,1100.6 L1061.6,1103.8 L1062.3,1107.0 L1063.1,1110.2 L1064.0,1113.3 L1064.8,1116.5 L1065.6,1119.6 L1066.5,1122.8 L1067.4,1125.9 L1068.3,1129.0 L1069.2,1132.1 L1070.2,1135.2 L1071.1,1138.2 L1072.1,1141.3 L1073.1,1144.3 L1074.2,1147.3 L1075.2,1150.3 L1076.3,1153.3 L1077.4,1156.3 L1078.6,1159.2 L1079.7,1162.1 L1080.9,1165.0 L1082.2,1167.9 L1083.4,1170.8 L1084.7,1173.6 L1086.1,1176.5 L1087.4,1179.4 L1088.8,1182.2 L1090.3,1185.1 L1091.8,1187.9 L1093.4,1190.8 L1095.0,1193.7 L1096.6,1196.5 L1098.4,1199.4 L1100.2,1202.1 L1102.1,1204.9 L1104.0,1207.5 L1106.1,1210.1 L1108.2,1212.6 L1110.5,1214.9 L1112.8,1217.2 L1115.3,1219.2 L1117.9,1221.2 L1120.6,1222.9 L1123.4,1224.5 L1126.3,1225.9 L1129.3,1227.1 L1132.4,1228.3 L1135.5,1229.2 L1138.7,1230.1 L1142.0,1230.8 L1145.3,1231.4 L1148.5,1231.9 L1151.8,1232.3 L1155.1,1232.6 L1158.4,1232.9 L1161.7,1233.0 L1165.0,1233.1 L1168.2,1233.2 L1171.5,1233.2 L1174.8,1233.1 L1178.0,1233.0 L1181.3,1232.9 L1184.6,1232.7 L1187.8,1232.6 L1191.1,1232.4 L1194.3,1232.2 L1197.6,1232.0 L1200.8,1231.9 L1204.1,1231.7 L1207.3,1231.6 L1210.6,1231.5 L1213.9,1231.5 L1217.1,1231.5 L1220.4,1231.5 L1223.6,1231.6 L1226.9,1231.8 L1230.1,1232.0 L1233.4,1232.3 L1236.6,1232.6 L1239.9,1233.0 L1243.2,1233.4 L1246.4,1233.8 L1249.7,1234.3 L1252.9,1234.7 L1256.2,1235.2 L1259.5,1235.8 L1262.7,1236.3 L1266.0,1236.8 L1269.2,1237.3 L1272.5,1237.8 L1275.8,1238.3 L1279.0,1238.8 L1282.3,1239.3 L1285.6,1239.7 L1288.8,1240.1 L1292.1,1240.5 L1295.4,1240.8 L1298.6,1241.1 L1301.9,1241.3 L1305.2,1241.4 L1308.5,1241.5 L1311.7,1241.5 L1315.0,1241.5 L1499.0,1241.5" fill="none" stroke="#008000" stroke-width="6.8" stroke-linecap="round" stroke-linejoin="round"/>
<g stroke="#000" stroke-width="5" fill="none" stroke-linecap="round">
<rect x="278.5" y="48.4" width="1757.5" height="1292.1" stroke-linejoin="miter"/>
<line x1="278.5" y1="1340.5" x2="265.5" y2="1340.5"/>
<line x1="278.5" y1="1241.1" x2="252.6" y2="1241.1"/>
<line x1="278.5" y1="1141.7" x2="265.5" y2="1141.7"/>
<line x1="278.5" y1="1042.3" x2="252.6" y2="1042.3"/>
<line x1="278.5" y1="942.9" x2="265.5" y2="942.9"/>
<line x1="278.5" y1="843.5" x2="252.6" y2="843.5"/>
<line x1="278.5" y1="744.1" x2="265.5" y2="744.1"/>
<line x1="278.5" y1="644.8" x2="252.6" y2="644.8"/>
<line x1="278.5" y1="545.4" x2="265.5" y2="545.4"/>
<line x1="278.5" y1="446.0" x2="252.6" y2="446.0"/>
<line x1="278.5" y1="346.6" x2="265.5" y2="346.6"/>
<line x1="278.5" y1="247.2" x2="252.6" y2="247.2"/>
<line x1="278.5" y1="147.8" x2="265.5" y2="147.8"/>
<line x1="278.5" y1="48.4" x2="252.6" y2="48.4"/>
<line x1="278.5" y1="1340.5" x2="278.5" y2="1366.5"/>
<line x1="404.0" y1="1340.5" x2="404.0" y2="1353.5"/>
<line x1="529.6" y1="1340.5" x2="529.6" y2="1366.5"/>
<line x1="655.1" y1="1340.5" x2="655.1" y2="1353.5"/>
<line x1="780.6" y1="1340.5" x2="780.6" y2="1366.5"/>
<line x1="906.2" y1="1340.5" x2="906.2" y2="1353.5"/>
<line x1="1031.7" y1="1340.5" x2="1031.7" y2="1366.5"/>
<line x1="1157.2" y1="1340.5" x2="1157.2" y2="1353.5"/>
<line x1="1282.8" y1="1340.5" x2="1282.8" y2="1366.5"/>
<line x1="1408.3" y1="1340.5" x2="1408.3" y2="1353.5"/>
<line x1="1533.9" y1="1340.5" x2="1533.9" y2="1366.5"/>
<line x1="1659.4" y1="1340.5" x2="1659.4" y2="1353.5"/>
<line x1="1784.9" y1="1340.5" x2="1784.9" y2="1366.5"/>
<line x1="1910.5" y1="1340.5" x2="1910.5" y2="1353.5"/>
<line x1="2036.0" y1="1340.5" x2="2036.0" y2="1366.5"/>
</g>
<text transform="translate(163.20,1255.91) scale(0.9650,1)" font-size="54" xml:space="preserve">0.0</text>
<text transform="translate(163.77,1057.12) scale(0.9650,1)" font-size="54" xml:space="preserve">0.2</text>
<text transform="translate(162.68,858.34) scale(0.9650,1)" font-size="54" xml:space="preserve">0.4</text>
<text transform="translate(163.46,659.55) scale(0.9650,1)" font-size="54" xml:space="preserve">0.6</text>
<text transform="translate(163.41,460.77) scale(0.9650,1)" font-size="54" xml:space="preserve">0.8</text>
<text transform="translate(163.20,261.98) scale(0.9650,1)" font-size="54" xml:space="preserve">1.0</text>
<text transform="translate(163.77,63.20) scale(0.9650,1)" font-size="54" xml:space="preserve">1.2</text>
<text transform="translate(241.70,1425.00) scale(0.9650,1)" font-size="54" xml:space="preserve">2.0</text>
<text transform="translate(492.85,1425.00) scale(0.9650,1)" font-size="54" xml:space="preserve">2.5</text>
<text transform="translate(744.15,1425.00) scale(0.9650,1)" font-size="54" xml:space="preserve">3.0</text>
<text transform="translate(995.30,1425.00) scale(0.9650,1)" font-size="54" xml:space="preserve">3.5</text>
<text transform="translate(1246.69,1425.00) scale(0.9650,1)" font-size="54" xml:space="preserve">4.0</text>
<text transform="translate(1497.84,1425.00) scale(0.9650,1)" font-size="54" xml:space="preserve">4.5</text>
<text transform="translate(1748.39,1425.00) scale(0.9650,1)" font-size="54" xml:space="preserve">5.0</text>
<text transform="translate(1999.54,1425.00) scale(0.9650,1)" font-size="54" xml:space="preserve">5.5</text>
<text transform="translate(1058.90,1524.85) scale(0.9449,1)" font-size="65" font-weight="bold" xml:space="preserve">logMW</text>
<text transform="translate(67.0,1040.30) rotate(-90) scale(0.9731,1)" font-size="65" font-weight="bold" xml:space="preserve">Normalized dW0dlogM</text>
<text transform="translate(511.50,206.00) scale(0.9878,1)" font-size="65.5" xml:space="preserve">Conv.80%</text>
<text transform="translate(823.11,206.00) scale(0.9776,1)" font-size="65.5" xml:space="preserve">overnight</text>
<line x1="746.4" y1="231.4" x2="830.4" y2="374.6" stroke="#000" stroke-width="6.5" stroke-linecap="round"/>
<polygon points="846.2,402.7 823.7,378.5 837.1,370.7" fill="#000" stroke="#000" stroke-width="6" stroke-linejoin="round"/>
<text transform="translate(1302.35,156.90) scale(0.9052,1)" font-size="66" font-weight="bold" xml:space="preserve">Catalyst</text>
<text transform="translate(1550.70,156.90) scale(0.9779,1)" font-size="66" font-weight="bold" xml:space="preserve">:</text>
<text transform="translate(1587.78,156.90) scale(0.9326,1)" font-size="66" font-weight="bold" xml:space="preserve">Initiator</text>
<text transform="translate(1365.81,246.80) scale(0.9858,1)" font-size="65.5" xml:space="preserve">CuBr</text>
<text transform="translate(1563.69,246.80) scale(0.9744,1)" font-size="65.5" xml:space="preserve">:R-Br</text>
<text transform="translate(1747.52,246.80) scale(0.9716,1)" font-size="65.5" font-style="italic" xml:space="preserve">&#272;=1.09</text>
<text transform="translate(1381.59,324.80) scale(0.9424,1)" font-size="65.5" xml:space="preserve">0.4</text>
<text transform="translate(1554.27,324.80) scale(1.1450,1)" font-size="65.5" xml:space="preserve">:</text>
<text transform="translate(1644.34,324.80) scale(0.9771,1)" font-size="65.5" xml:space="preserve">1</text>
<text transform="translate(1381.59,480.80) scale(0.9424,1)" font-size="65.5" xml:space="preserve">0.4</text>
<text transform="translate(1554.27,480.80) scale(1.1450,1)" font-size="65.5" xml:space="preserve">:</text>
<text transform="translate(1644.34,480.80) scale(0.9771,1)" font-size="65.5" xml:space="preserve">1</text>
<text transform="translate(1365.22,402.80) scale(0.9813,1)" font-size="65.5" xml:space="preserve">CuCl</text>
<text transform="translate(1558.47,402.80) scale(1.1450,1)" font-size="65.5" xml:space="preserve">:</text>
<text transform="translate(1594.90,402.80) scale(0.9874,1)" font-size="65.5" xml:space="preserve">R-Br</text>
<text transform="translate(1762.72,402.80) scale(0.9718,1)" font-size="65.5" font-style="italic" xml:space="preserve">&#272;=1.70</text>
<text transform="translate(1365.22,558.80) scale(0.9813,1)" font-size="65.5" xml:space="preserve">CuCl</text>
<text transform="translate(1558.47,558.80) scale(1.1450,1)" font-size="65.5" xml:space="preserve">:</text>
<text transform="translate(1594.90,558.80) scale(0.9874,1)" font-size="65.5" xml:space="preserve">R-Br</text>
<text transform="translate(1762.72,558.80) scale(0.9740,1)" font-size="65.5" font-style="italic" xml:space="preserve">&#272;=1.19</text>
<text transform="translate(1434.54,636.80) scale(0.9771,1)" font-size="65.5" xml:space="preserve">1</text>
<text transform="translate(1553.18,636.80) scale(1.1609,1)" font-size="65.5" xml:space="preserve">:</text>
<text transform="translate(1643.34,636.80) scale(0.9771,1)" font-size="65.5" xml:space="preserve">1</text>
<line x1="1207" y1="226" x2="1348" y2="226" stroke="#0000ff" stroke-width="6.8" stroke-linecap="round"/>
<line x1="1207" y1="381" x2="1348" y2="381" stroke="#ff0000" stroke-width="6.8" stroke-linecap="round"/>
<line x1="1207" y1="537" x2="1348" y2="537" stroke="#008000" stroke-width="6.8" stroke-linecap="round"/>
</svg></body></html>
